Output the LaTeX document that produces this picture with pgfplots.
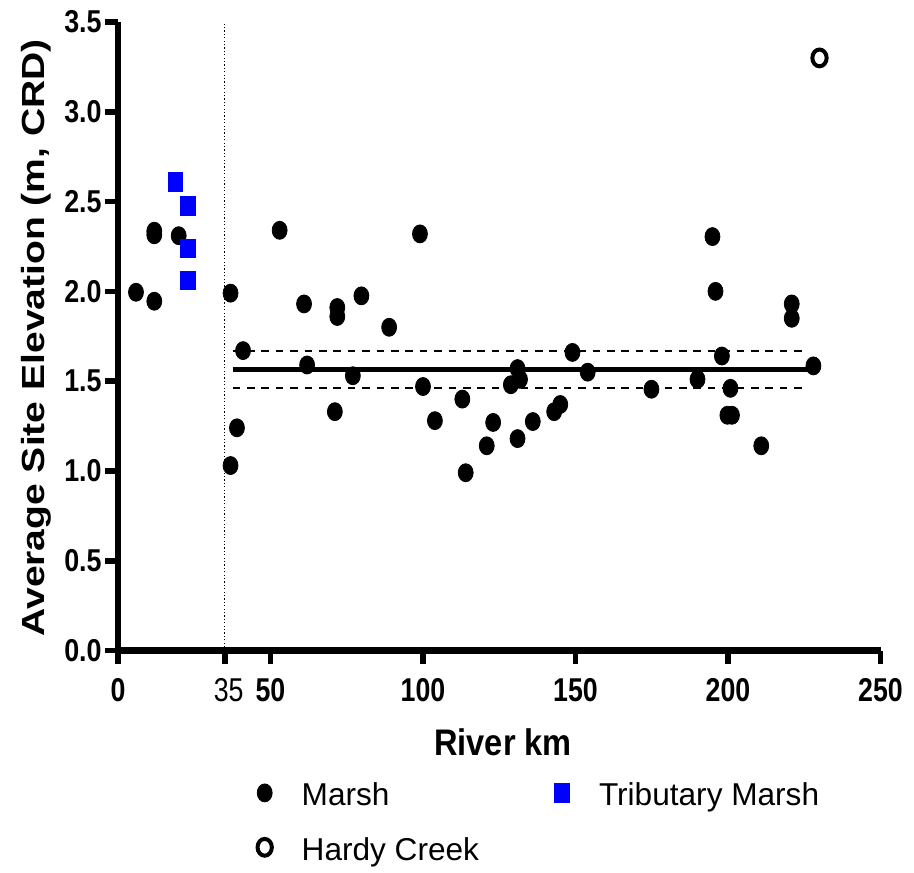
\documentclass[border=0pt]{standalone}
\usepackage{pgfplots}
\pgfplotsset{compat=1.18}
\usepackage{fontspec}
\setmainfont{Liberation Sans}
\newfontfamily\xtickfont{Liberation Sans}[FakeStretch=0.81]
\newfontfamily\ytickfont{Liberation Sans}[FakeStretch=0.85]
\newfontfamily\xlabfont{Liberation Sans}[FakeStretch=0.88]
\newfontfamily\ylabfont{Liberation Sans}[FakeStretch=1.22]
\newfontfamily\regtick{Liberation Sans}[FakeStretch=0.81]

\pgfplotstableread{
x y
5.9 1.995
11.9 1.945
11.9 2.335
11.9 2.315
19.9 2.31
36.9 1.99
36.9 1.03
39.0 1.24
41.0 1.67
53.0 2.34
61.0 1.93
62.0 1.59
71.9 1.91
71.9 1.86
71.1 1.33
77.0 1.53
79.8 1.975
88.9 1.80
99.0 2.32
100.0 1.47
103.9 1.28
112.9 1.40
114.0 0.99
120.9 1.14
123.0 1.27
128.8 1.48
131.0 1.57
131.8 1.51
131.0 1.18
136.0 1.275
143.0 1.33
145.0 1.37
149.0 1.66
154.0 1.55
174.9 1.455
190.0 1.51
194.9 2.305
195.9 2.00
198.0 1.64
200.8 1.46
199.8 1.31
201.3 1.31
210.9 1.14
220.9 1.93
220.9 1.85
228.0 1.585
}\marsh

\pgfplotstableread{
x y
18.8 2.61
23.0 2.475
23.0 2.24
23.0 2.06
}\trib

\pgfplotstableread{
x y
230.0 3.30
}\hardy

\begin{document}
\begin{tikzpicture}
\begin{axis}[
  scale only axis, width=381.25pt, height=314.25pt,
  xmin=0, xmax=250, ymin=0, ymax=3.5,
  axis x line*=bottom, axis y line*=left,
  axis line style={line width=3.2pt, black},
  tick align=outside, major tick length=6.6pt,
  tick style={line width=2.8pt, black},
  xtick={0,50,100,150,200,250},
  xticklabels={0,50,100,150,200,250},
  ytick={0,0.5,1,1.5,2,2.5,3,3.5},
  yticklabels={0.0,0.5,1.0,1.5,2.0,2.5,3.0,3.5},
  extra x ticks={35}, extra x tick labels={35},
  extra x tick style={xticklabel style={font=\regtick\fontsize{16.5}{16.5}\selectfont, xshift=2pt}},
  xticklabel style={font=\xtickfont\bfseries\fontsize{16.5}{16.5}\selectfont, inner sep=0pt, anchor=north, yshift=-7.2pt},
  yticklabel style={font=\ytickfont\bfseries\fontsize{15.8}{15.8}\selectfont, inner sep=0pt, anchor=east, xshift=-1.4pt},
  xlabel={River km},
  ylabel={Average Site Elevation (m, CRD)},
  xlabel style={font=\xlabfont\bfseries\fontsize{18.5}{18.5}\selectfont, at={(axis description cs:0.505,-0.1663)}, anchor=base, inner sep=0pt},
  ylabel style={font=\ylabfont\bfseries\fontsize{16}{16}\selectfont, at={(axis description cs:-0.097,0.4976)}, anchor=base, inner sep=0pt},
  legend columns=2, legend cell align=left,
  legend style={at={(axis description cs:0,0)}, anchor=north west, xshift=68.35pt, yshift=-66.25pt,
    draw=none, fill=none, inner sep=0pt, outer sep=0pt,
    font=\fontsize{15.8}{15.8}\selectfont,
    nodes={inner sep=0pt, text height=11.3pt, text depth=0pt, anchor=west},
    row sep=15.9pt,
    /tikz/every even column/.append style={column sep=36.5pt}},
  legend image code/.code={\path[draw=none,fill=none] (0pt,0.7pt) -- (23.5pt,0.7pt);\draw[mark repeat=2,mark phase=2,#1] plot coordinates {(0pt,0.7pt)(5pt,0.7pt)(23.5pt,0.7pt)};},
]
% vertical dotted line at km 35
\addplot[black, line width=0.6pt, dash pattern=on 0.6pt off 1.1pt, forget plot] coordinates {(35,0) (35,3.5)};
% mean and confidence band
\addplot[black, line width=2.6pt, forget plot] coordinates {(37.7,1.565) (228,1.565)};
\addplot[black, line width=1.1pt, dash pattern=on 3.8pt off 3.4pt, forget plot] coordinates {(37.6,1.666) (225.5,1.666)};
\addplot[black, line width=1.1pt, dash pattern=on 3.8pt off 3.4pt, forget plot] coordinates {(37.6,1.463) (225.5,1.463)};

\addplot[only marks, mark=*, mark size=4.5pt, mark options={xscale=0.83, draw=black, fill=black}] table[x=x,y=y] {\marsh};
\addlegendentry{Marsh}
\addplot[only marks, mark=square*, mark size=4.6pt, mark options={xscale=0.8, draw=blue, fill=blue}] table[x=x,y=y] {\trib};
\addlegendentry{Tributary Marsh}
\addplot[only marks, mark=o, mark size=4.2pt, mark options={xscale=0.85, draw=black, line width=2pt}] table[x=x,y=y] {\hardy};
\addlegendentry{Hardy Creek}

\path (rel axis cs:0,0) ++(-59pt,-110.75pt) coordinate (bbsw);
\path (rel axis cs:1,1) ++(16.75pt,11pt) coordinate (bbne);
\end{axis}
\path (bbsw) rectangle (bbne);
\end{tikzpicture}
\end{document}
